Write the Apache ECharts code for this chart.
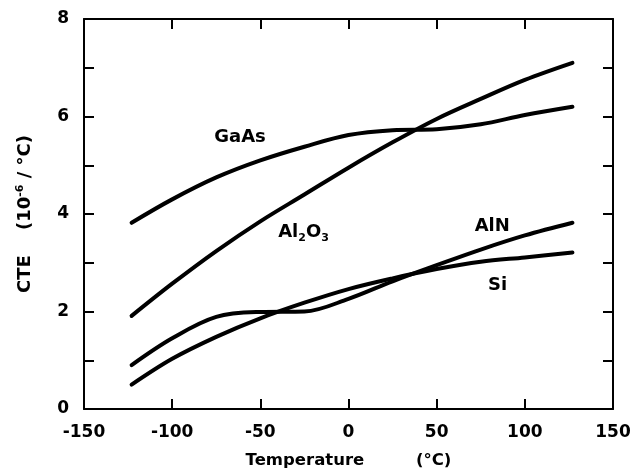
<!DOCTYPE html>
<html>
<head>
<meta charset="utf-8">
<script src="https://cdn.jsdelivr.net/npm/echarts@6/dist/echarts.min.js"></script>
<style>
html,body{margin:0;padding:0;background:#fff;}
#chart{width:637px;height:476px;}
</style>
</head>
<body>
<div id="chart"></div>
<script>
// Data
var temps = [-123, -100, -75, -50, -25, 0, 25, 50, 75, 100, 127];
var gaas  = [3.82, 4.30, 4.75, 5.10, 5.38, 5.62, 5.72, 5.74, 5.84, 6.03, 6.20];
var al2o3 = [1.91, 2.57, 3.24, 3.85, 4.40, 4.95, 5.47, 5.95, 6.36, 6.75, 7.10];
var aln   = [0.90, 1.45, 1.89, 1.99, 2.00, 2.26, 2.62, 2.95, 3.27, 3.56, 3.82];
var si    = [0.50, 1.03, 1.48, 1.86, 2.18, 2.46, 2.68, 2.87, 3.02, 3.11, 3.21];

var xTicks = [-150, -100, -50, 0, 50, 100, 150];
var yTickLabels = [0, 2, 4, 6, 8];

var labelNames = ['GaAs', 'Al2O3', 'AlN', 'Si'];
var labelTexts = ['{n|GaAs}', '{n|Al}{sub|2}{n|O}{sub|3}', '{n|AlN}', '{n|Si}'];
var labelX = [-61.5, -25.5, 81.5, 84.5];
var labelY = [5.58, 3.63, 3.75, 2.54];

function pairs(xs, ys) { return xs.map(function (x, i) { return [x, ys[i]]; }); }

var FONT = 'DejaVu Sans';
var axisLineStyle = { color: '#000', width: 2 };
var tickStyle = { show: true, inside: true, length: 10, lineStyle: { color: '#000', width: 2 } };

function lineSeries(name, ys) {
  return {
    name: name, type: 'line', data: pairs(temps, ys),
    smooth: 0.35, symbol: 'none',
    lineStyle: { color: '#000', width: 4, cap: 'round' },
    xAxisIndex: 0, yAxisIndex: 0, silent: true
  };
}

var chart = echarts.init(document.getElementById('chart'), null, { renderer: 'canvas' });
chart.setOption({
  backgroundColor: '#fff',
  animation: false,
  grid: { left: 84, right: 24, top: 19, bottom: 67 },
  xAxis: [{
    type: 'value', min: xTicks[0], max: xTicks[xTicks.length - 1], interval: 50,
    position: 'bottom',
    name: 'Temperature         (°C)', nameLocation: 'middle', nameGap: 43,
    nameTextStyle: { fontFamily: FONT, fontWeight: 'bold', fontSize: 16.5, color: '#000' },
    axisLine: { show: true, onZero: false, lineStyle: axisLineStyle },
    axisTick: tickStyle,
    axisLabel: { fontFamily: FONT, fontWeight: 'bold', fontSize: 17, color: '#000', margin: 15, showMinLabel: true, showMaxLabel: true },
    splitLine: { show: false }
  }, {
    type: 'value', min: xTicks[0], max: xTicks[xTicks.length - 1], interval: 50,
    position: 'top',
    axisLine: { show: true, onZero: false, lineStyle: axisLineStyle },
    axisTick: tickStyle,
    axisLabel: { show: false },
    splitLine: { show: false }
  }],
  yAxis: [{
    type: 'value', min: 0, max: 8, interval: 1,
    position: 'left',
    name: 'CTE    (10{sup|-6} / °C)', nameLocation: 'middle', nameGap: 48,
    nameTextStyle: {
      fontFamily: FONT, fontWeight: 'bold', fontSize: 18, color: '#000',
      rich: { sup: { fontFamily: FONT, fontWeight: 'bold', fontSize: 11, color: '#000', padding: [0, 0, 10, 0] } }
    },
    axisLine: { show: true, onZero: false, lineStyle: axisLineStyle },
    axisTick: tickStyle,
    axisLabel: {
      fontFamily: FONT, fontWeight: 'bold', fontSize: 17, color: '#000', margin: 15,
      showMinLabel: true, showMaxLabel: true,
      formatter: function (v) { return yTickLabels.indexOf(v) >= 0 ? String(v) : ''; }
    },
    splitLine: { show: false }
  }, {
    type: 'value', min: 0, max: 8, interval: 1,
    position: 'right',
    axisLine: { show: true, onZero: false, lineStyle: axisLineStyle },
    axisTick: tickStyle,
    axisLabel: { show: false },
    splitLine: { show: false }
  }],
  series: [
    lineSeries('GaAs', gaas),
    lineSeries('Al2O3', al2o3),
    lineSeries('AlN', aln),
    lineSeries('Si', si),
    {
      type: 'scatter', silent: true, symbolSize: 0,
      itemStyle: { color: '#000', opacity: 1 },
      data: labelNames.map(function (n, i) { return { name: n, value: [labelX[i], labelY[i]], txt: labelTexts[i] }; }),
      label: {
        show: true, position: 'inside',
        fontFamily: FONT, fontWeight: 'bold', fontSize: 18, color: '#000',
        textBorderWidth: 0, opacity: 1,
        formatter: function (p) { return p.data.txt; },
        rich: {
          n: { fontFamily: FONT, fontWeight: 'bold', fontSize: 18, color: '#000' },
          sub: { fontFamily: FONT, fontWeight: 'bold', fontSize: 11, color: '#000', padding: [12, 0, 0, 0] }
        }
      }
    }
  ]
});
</script>
</body>
</html>
